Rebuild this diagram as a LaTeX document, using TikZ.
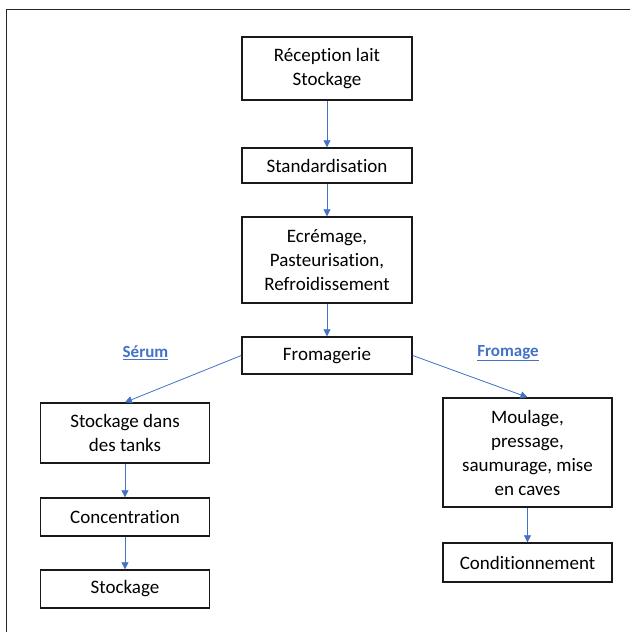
\documentclass[tikz,border=0pt]{standalone}
\usepackage{fontspec}
\setmainfont[Ligatures=CommonOff]{Carlito}
\usetikzlibrary{arrows.meta}
\definecolor{arrowblue}{HTML}{4472C4}
\definecolor{labelblue}{HTML}{4472C4}
\tikzset{
  stepbox/.style={draw=black!90, line width=1.4pt, align=center, inner sep=0pt,
    font=\fontsize{19}{24}\selectfont, text=black},
  flow/.style={draw=arrowblue, line width=0.8pt, -{Triangle[length=7pt,width=7pt]}},
  branchlabel/.style={text=labelblue, font=\fontsize{17}{20}\selectfont\bfseries, inner sep=0pt}
}
\begin{document}
\begin{tikzpicture}[x=1pt,y=-1pt]
\useasboundingbox[fill=white] (0,0) rectangle (630,632);
\coordinate (ftop) at (630,9);
\coordinate (fcorner) at (6,9);
\coordinate (fbottom) at (6,632);
\draw[black!85, line width=1pt] (ftop) -- (fcorner) -- (fbottom);

\node[stepbox, minimum width=170, minimum height=63] (rec) at (327,68.5) {Réception lait\\Stockage};
\node[stepbox, minimum width=170, minimum height=35] (std) at (327,165.5) {Standardisation};
\node[stepbox, minimum width=170, minimum height=86] (ecr) at (327,260) {Ecrémage,\\Pasteurisation,\\Refroidissement};
\node[stepbox, minimum width=170, minimum height=37] (fro) at (327,355.5) {Fromagerie};

\node[stepbox, minimum width=169, minimum height=60] (stk) at (125,433) {Stockage dans\\des tanks};
\node[stepbox, minimum width=169, minimum height=38] (con) at (125,517) {Concentration};
\node[stepbox, minimum width=169, minimum height=38] (sto) at (125,589) {Stockage};

\node[stepbox, minimum width=169, minimum height=109] (mou) at (527.5,452.5) {Moulage,\\pressage,\\saumurage, mise\\en caves};
\node[stepbox, minimum width=169, minimum height=39] (cnd) at (527.5,562.5) {Conditionnement};

\node[branchlabel] (serum) at (145.5,353) {\underline{Sérum}};
\node[branchlabel] (fromage) at (508,353) {\underline{Fromage}};

\draw[flow] (rec) -- (std);
\draw[flow] (std) -- (ecr);
\draw[flow] (ecr) -- (fro);
\draw[flow] (fro.west) -- (stk.north);
\draw[flow] (fro.east) -- (mou.north);
\draw[flow] (stk) -- (con);
\draw[flow] (con) -- (sto);
\draw[flow] (mou) -- (cnd);
\end{tikzpicture}
\end{document}
